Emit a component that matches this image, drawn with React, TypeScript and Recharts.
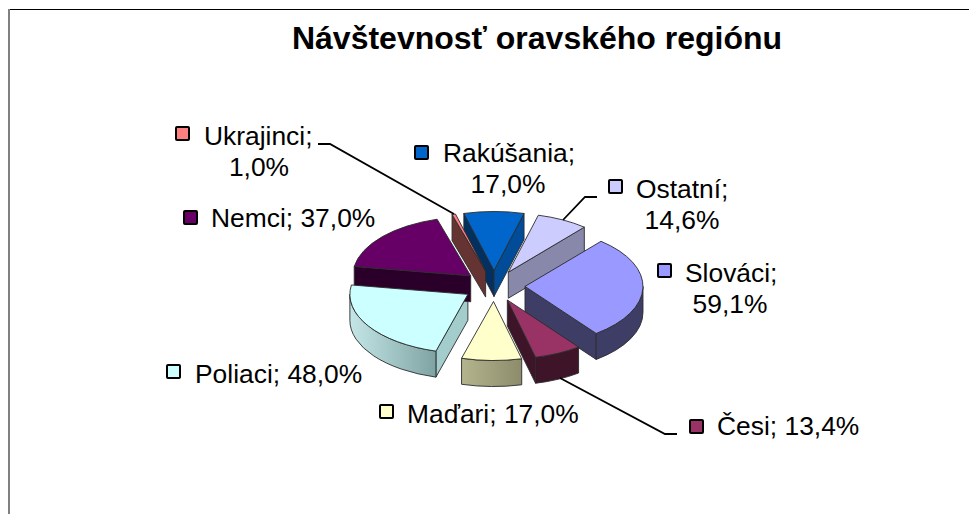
import React from 'react';
import { PieChart, Pie } from 'recharts';

const names = ['Rakúšania', 'Ostatní', 'Slováci', 'Česi', 'Maďari', 'Poliaci', 'Nemci', 'Ukrajinci'];
const values = [17.0, 14.6, 59.1, 13.4, 17.0, 48.0, 37.0, 1.0];
const topColors = ['#0066CC', '#CCCCFF', '#9999FF', '#993366', '#FFFFCC', '#CCFFFF', '#660066', '#FF8080'];
const outerColors = ['#004C99', '#8888AA', '#3D3D66', '#3D1428', 'url(#madari)', 'url(#poliaci)', '#2A002A', '#663333'];
const cutColors = ['#03305F', '#8888AA', '#3D3D66', '#3D1428', '#A8A880', '#A3CCCC', '#2A002A', '#663333'];

const data = names.map((name, i) => ({ name, value: values[i] }));

const W = 969;
const H = 514;
const FONT = '"Liberation Sans", Arial, sans-serif';
const SQUASH = 0.5;
const DEPTH = 26;
const EXPLODE = 31;
const LINE = '#2b2b2b';

// label placement, index matches names
const labelSpots = [
  { key: [415, 146], lines: [[443, 162, 'start'], [508, 193, 'middle']] },
  { key: [609, 180], lines: [[636, 198, 'start'], [682, 229, 'middle']] },
  { key: [658, 264], lines: [[685, 282, 'start'], [730, 313, 'middle']] },
  { key: [690, 420], lines: [[717, 435, 'start']] },
  { key: [380, 405], lines: [[407, 423, 'start']] },
  { key: [167, 365], lines: [[195, 383, 'start']] },
  { key: [184, 211], lines: [[211, 227, 'start']] },
  { key: [176, 127], lines: [[204, 145, 'start'], [259, 176, 'middle']] },
];

const leaders: Record<string, string> = {
  Ostatní: '597,197 585,197 563,220',
  Česi: '677,434 665,434 560,378',
  Ukrajinci: '318,144 330,144 454,214',
};

const geometry = (p: any) => {
  const { cx, cy, outerRadius: r, startAngle: s, endAngle: e } = p;
  const mid = (((s + e) / 2) * Math.PI) / 180;
  const ax = cx + EXPLODE * Math.cos(mid);
  const ay = cy - EXPLODE * SQUASH * Math.sin(mid);
  const pt = (deg: number, drop = 0) => {
    const a = (deg * Math.PI) / 180;
    return [ax + r * Math.cos(a), ay - r * SQUASH * Math.sin(a) + drop];
  };
  return { r, s, e, ax, ay, pt };
};

const cos = (deg: number) => Math.cos((deg * Math.PI) / 180);

// walls of a slice, only the ones facing the viewer
const SideShape = (props: any) => {
  const { r, s, e, ax, ay, pt } = geometry(props);
  const idx = names.indexOf(props.name ?? props.payload?.name);
  const wall = (deg: number) => {
    const [x, y] = pt(deg);
    return `M${ax},${ay} L${x},${y} L${x},${y + DEPTH} L${ax},${ay + DEPTH} Z`;
  };
  const from = Math.min(s, 0);
  const to = Math.max(e, -180);
  let outer = '';
  if (from > to) {
    const [x1, y1] = pt(from);
    const [x2, y2] = pt(to);
    const ry = r * SQUASH;
    outer = `M${x1},${y1} A${r},${ry} 0 0 1 ${x2},${y2} L${x2},${y2 + DEPTH} A${r},${ry} 0 0 0 ${x1},${y1 + DEPTH} Z`;
  }
  return (
    <g>
      {cos(s) < 0 && <path d={wall(s)} fill={cutColors[idx]} stroke={LINE} strokeWidth={0.9} />}
      {cos(e) > 0 && <path d={wall(e)} fill={idx === 0 ? outerColors[idx] : cutColors[idx]} stroke={LINE} strokeWidth={0.9} />}
      {outer && <path d={outer} fill={outerColors[idx]} stroke={LINE} strokeWidth={0.9} />}
    </g>
  );
};

const TopShape = (props: any) => {
  const { r, s, e, ax, ay, pt } = geometry(props);
  const idx = names.indexOf(props.name ?? props.payload?.name);
  const [x1, y1] = pt(s);
  const [x2, y2] = pt(e);
  const large = s - e > 180 ? 1 : 0;
  const d = `M${ax},${ay} L${x1},${y1} A${r},${r * SQUASH} 0 ${large} 1 ${x2},${y2} Z`;
  return <path d={d} fill={topColors[idx]} stroke={LINE} strokeWidth={0.9} />;
};

const renderLabel = (props: any) => {
  const idx = props.index;
  const spot = labelSpots[idx];
  const name = names[idx];
  const pct = values[idx].toFixed(1).replace('.', ',') + '%';
  const parts = spot.lines.length > 1 ? [name + ';', pct] : [name + '; ' + pct];
  return (
    <g key={name}>
      {leaders[name] && <polyline points={leaders[name]} fill="none" stroke="#000" strokeWidth={1.8} />}
      <rect x={spot.key[0] as number} y={spot.key[1] as number} width={13} height={13} rx={1} fill={topColors[idx]} stroke="#000" strokeWidth={2} />
      {spot.lines.map((l, j) => (
        <text key={j} x={l[0] as number} y={l[1] as number} textAnchor={l[2] as any} fontFamily={FONT} fontSize={26.4} fill="#000">
          {parts[j]}
        </text>
      ))}
    </g>
  );
};

export default function App() {
  return (
    <div style={{ position: 'absolute', left: 0, top: 0, width: W, height: H, overflow: 'hidden', background: '#fff' }}>
      <div style={{ position: 'absolute', left: 8, top: 9, right: 0, height: 1, background: '#000' }} />
      <div style={{ position: 'absolute', left: 8, top: 9, bottom: 0, width: 2, background: '#808080' }} />
      <PieChart width={W} height={H} margin={{ top: 0, right: 0, bottom: 0, left: 0 }} style={{ position: 'absolute', left: 0, top: 0 }}>
        <defs>
          <linearGradient id="madari" x1="0" y1="0" x2="1" y2="0">
            <stop offset="0%" stopColor="#B4B48E" />
            <stop offset="100%" stopColor="#8C8C6C" />
          </linearGradient>
          <linearGradient id="poliaci" x1="0" y1="0" x2="1" y2="0">
            <stop offset="0%" stopColor="#C4E6E6" />
            <stop offset="100%" stopColor="#7FA3A3" />
          </linearGradient>
        </defs>
        <text x={537} y={49} textAnchor="middle" fontFamily={FONT} fontSize={32} fontWeight="bold" fill="#000">
          Návštevnosť oravského regiónu
        </text>
        <Pie
          data={data}
          dataKey="value"
          nameKey="name"
          cx={494}
          cy={286}
          outerRadius={118}
          startAngle={104.8}
          endAngle={-255.2}
          shape={SideShape}
          label={false}
          labelLine={false}
          isAnimationActive={false}
        />
        <Pie
          data={data}
          dataKey="value"
          nameKey="name"
          cx={494}
          cy={286}
          outerRadius={118}
          startAngle={104.8}
          endAngle={-255.2}
          shape={TopShape}
          label={renderLabel}
          labelLine={false}
          isAnimationActive={false}
        />
      </PieChart>
    </div>
  );
}
